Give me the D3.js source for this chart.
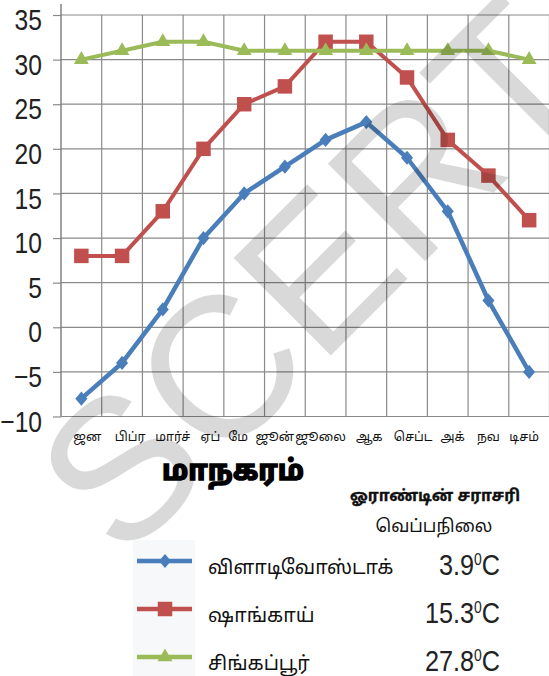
<!DOCTYPE html>
<html>
<head>
<meta charset="utf-8">
<script src="https://cdn.jsdelivr.net/npm/d3@7"></script>
<style>
  body { margin: 0; background: #fff; }
  svg { display: block; }
  .ta { font-family: "Noto Sans Tamil", "Noto Sans Tamil UI", "Lohit Tamil", "Lohit-Tamil", "FreeSans", "Noto Sans", sans-serif; }
</style>
</head>
<body>
<svg id="vis" width="549" height="676"></svg>
<script>
const svg = d3.select("#vis");

// data
const MONTHS = ["ஜன", "பிப்ர", "மார்ச்", "ஏப்", "மே", "ஜூன்", "ஜூலை", "ஆக", "செப்ட", "அக்", "நவ", "டிசம்"];
const VLADIVOSTOK = [-8, -4, 2, 10, 15, 18, 21, 23, 19, 13, 3, -5];
const SHANGHAI = [8, 8, 13, 20, 25, 27, 32, 32, 28, 21, 17, 12];
const SINGAPORE = [30, 31, 32, 32, 31, 31, 31, 31, 31, 31, 31, 30];
const Y_TICKS = [-10, -5, 0, 5, 10, 15, 20, 25, 30, 35];
const CITY_NAMES = ["விளாடிவோஸ்டாக்", "ஷாங்காய்", "சிங்கப்பூர்"];
const ANNUAL_AVG = ["3.9", "15.3", "27.8"];

const TITLE = "மாநகரம்";
const LEGEND_HEAD = ["ஓராண்டின் சராசரி", "வெப்பநிலை"];

const NUM_FONT = "'Liberation Sans', Arial, sans-serif";
const NARROW = 0.82; // the numbers in the picture are condensed

// month labels in the picture are typed as one line, so they sit a little off the band centres
const LABEL_NUDGE = [6, 8, 10, 7, -6, -10, -5, 3, 6, 5, 0, -5];

const xscale = d3.scaleBand().domain(MONTHS).range([61, 549.5]);
const yscale = d3.scaleLinear().domain([-10, 35]).range([416.5, 15]);

// diamond that is a bit wider than d3's own
const wideDiamond = {
    draw(ctx, size) {
        const h = Math.sqrt(size) * 0.58, w = h * 0.85;
        ctx.moveTo(0, -h); ctx.lineTo(w, 0); ctx.lineTo(0, h); ctx.lineTo(-w, 0); ctx.closePath();
    }
};

const SERIES = [
    { name: "vlad", values: VLADIVOSTOK, color: "#4a7ebb", width: 4.5, symbol: wideDiamond, size: 150 },
    { name: "shang", values: SHANGHAI, color: "#c0504d", width: 4, symbol: d3.symbolSquare, size: 210 },
    { name: "sing", values: SINGAPORE, color: "#9bbb59", width: 4, symbol: d3.symbolTriangle, size: 95 },
];

function main() {
    drawGrid();
    drawAxis();
    SERIES.forEach(drawSeries);
    drawTexts();
    drawLegend();
    drawWatermark();
}

function drawGrid() {
    const [x0, x1] = xscale.range();
    const bw = xscale.bandwidth();
    const g = svg.append("g").attr("class", "grid");

    g.selectAll(".hline").data(Y_TICKS).join("line")
        .attr("class", "hline")
        .attr("x1", x0).attr("x2", x1)
        .attr("y1", d => yscale(d)).attr("y2", d => yscale(d))
        .attr("stroke", "#8a8a8a").attr("stroke-width", 1.2);

    // band edges
    const edges = d3.range(1, MONTHS.length + 1).map(i => x0 + i * bw);
    g.selectAll(".vline").data(edges).join("line")
        .attr("class", "vline")
        .attr("x1", d => d).attr("x2", d => d)
        .attr("y1", yscale(35)).attr("y2", yscale(-10))
        .attr("stroke", "#8a8a8a").attr("stroke-width", 1.2);
}

function drawAxis() {
    const x0 = xscale.range()[0];
    const axis = svg.append("g")
        .attr("transform", `translate(${x0},0)`)
        .call(d3.axisLeft(yscale).tickValues(Y_TICKS).tickSize(8).tickPadding(15.2));
    axis.select(".domain").remove();
    axis.selectAll(".tick line").attr("stroke", "#8a8a8a").attr("stroke-width", 1.2);
    axis.selectAll(".tick text")
        .attr("fill", "#222")
        .attr("transform", `scale(${NARROW},1)`)
        .style("font-family", NUM_FONT)
        .style("font-size", "30px")
        .attr("dy", "0.49em");

    svg.append("line")
        .attr("x1", x0).attr("x2", x0)
        .attr("y1", 4).attr("y2", yscale(-10))
        .attr("stroke", "#7a7a7a").attr("stroke-width", 1.4);

    svg.append("g").selectAll("text").data(MONTHS).join("text")
        .attr("class", "ta")
        .attr("x", (d, i) => xscale(d) + xscale.bandwidth() / 2 + LABEL_NUDGE[i])
        .attr("y", 441)
        .attr("text-anchor", "middle")
        .attr("fill", "#111")
        .style("font-size", "12.5px")
        .text(d => d);
}

function drawSeries(s) {
    const pts = s.values.map((v, i) => ({ x: xscale(MONTHS[i]) + xscale.bandwidth() / 2, y: yscale(v) }));
    const line = d3.line().x(d => d.x).y(d => d.y);

    svg.append("path")
        .datum(pts)
        .attr("d", line)
        .attr("fill", "none")
        .attr("stroke", s.color)
        .attr("stroke-width", s.width)
        .attr("stroke-linejoin", "round");

    svg.append("g").selectAll("path").data(pts).join("path")
        .attr("transform", d => `translate(${d.x},${d.y})`)
        .attr("d", d3.symbol(s.symbol, s.size))
        .attr("fill", s.color);
}

function drawTexts() {
    svg.append("text")
        .attr("class", "ta")
        .attr("x", 233).attr("y", 480)
        .attr("text-anchor", "middle")
        .attr("fill", "#000")
        .attr("stroke", "#000")
        .attr("stroke-width", 1.6)
        .style("font-size", "28px")
        .style("font-weight", "bold")
        .text(TITLE);

    svg.append("text")
        .attr("class", "ta")
        .attr("x", 435).attr("y", 501)
        .attr("text-anchor", "middle")
        .attr("fill", "#111")
        .attr("stroke", "#111")
        .attr("stroke-width", 0.3)
        .style("font-size", "15.8px")
        .style("font-weight", "bold")
        .text(LEGEND_HEAD[0]);

    svg.append("text")
        .attr("class", "ta")
        .attr("x", 434).attr("y", 532)
        .attr("text-anchor", "middle")
        .attr("fill", "#111")
        .style("font-size", "17.4px")
        .text(LEGEND_HEAD[1]);
}

function drawLegend() {
    const ROW_Y = [561, 609, 657];

    svg.append("rect")
        .attr("x", 133).attr("y", 540).attr("width", 62).attr("height", 136)
        .attr("fill", "#f6f8fa");

    const rows = svg.append("g").selectAll("g").data(SERIES).join("g")
        .attr("transform", (d, i) => `translate(0,${ROW_Y[i]})`);

    rows.append("line")
        .attr("x1", 137).attr("x2", 192)
        .attr("stroke", d => d.color)
        .attr("stroke-width", 4.5);

    rows.append("path")
        .attr("transform", "translate(165,0)")
        .attr("d", d => d3.symbol(d.symbol, d.size)())
        .attr("fill", d => d.color);

    rows.append("text")
        .attr("class", "ta")
        .attr("x", 208).attr("y", 13)
        .attr("fill", "#111")
        .style("font-size", "19.5px")
        .text((d, i) => CITY_NAMES[i]);

    const val = rows.append("text")
        .attr("transform", `translate(500,14) scale(${NARROW + 0.05},1)`)
        .attr("text-anchor", "end")
        .attr("fill", "#222")
        .style("font-family", NUM_FONT)
        .style("font-size", "29px");
    val.append("tspan").text((d, i) => ANNUAL_AVG[i]);
    val.append("tspan").attr("dy", -10).style("font-size", "16px").text("0");
    val.append("tspan").attr("dy", 10).text("C");
}

function drawWatermark() {
    svg.append("text")
        .attr("transform", "translate(312,276) rotate(-45)")
        .attr("text-anchor", "middle")
        .attr("dominant-baseline", "central")
        .attr("fill", "#000")
        .attr("fill-opacity", 0.15)
        .style("font-family", "'Liberation Sans', Arial, sans-serif")
        .style("font-size", "200px")
        .text("SCERT");
}

main();
</script>
</body>
</html>
